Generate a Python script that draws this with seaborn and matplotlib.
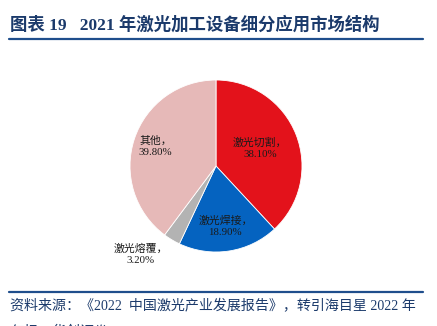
import matplotlib
matplotlib.use("Agg")
import matplotlib.pyplot as plt
import seaborn as sns
import numpy as np

# 2021 laser processing equipment application structure (%)
categories = ["激光切割", "激光焊接", "激光熔覆", "其他"]
shares = [38.10, 18.90, 3.20, 39.80]
colors = ["#E3121B", "#0563C0", "#B3B3B3", "#E6B9B8"]

title_text = "图表 19   2021 年激光加工设备细分应用市场结构"
source_line1 = "资料来源：《2022  中国激光产业发展报告》，转引海目星 2022 年"
source_line2 = "年报，华创证券"

sns.set_theme(style="white")
mixed = ["Liberation Serif", "Noto Sans CJK SC", "DejaVu Sans"]
plt.rcParams["font.family"] = mixed

W, H = 437, 326
fig = plt.figure(figsize=(W / 100, H / 100), dpi=100)
fig.patch.set_facecolor("white")

navy = "#1B3A6B"

# header and footer rules
fig.add_artist(plt.Line2D([9 / W, 423 / W], [1 - 39 / H, 1 - 39 / H], color="#1F4E8C", lw=1.6))
fig.add_artist(plt.Line2D([9 / W, 423 / W], [1 - 292 / H, 1 - 292 / H], color="#1F4E8C", lw=1.6))

fig.text(10 / W, 1 - 25 / H, title_text, fontsize=12.5, fontweight="bold",
         color=navy, ha="left", va="center", family=mixed)
fig.text(10 / W, 1 - 306 / H, source_line1, fontsize=10.1, color=navy,
         ha="left", va="center", family=mixed)
fig.text(10 / W, 1 - 332 / H, source_line2, fontsize=10.1, color=navy,
         ha="left", va="center", family=mixed)

# pie axes: centre (216,166) px, radius 86 px
cx, cy, r = 216, 166, 86
ax = fig.add_axes([(cx - r) / W, (H - cy - r) / H, 2 * r / W, 2 * r / H])
wedges, _ = ax.pie(shares, colors=colors, startangle=90, counterclock=False,
                   radius=1.0, wedgeprops=dict(edgecolor="white", linewidth=0.6))
ax.set_xlim(-1, 1)
ax.set_ylim(-1, 1)
ax.set_aspect("equal")
ax.axis("off")

# label placement: radial distance and extra angular shift per wedge
dist = [0.55, 0.71, 1.355, 0.74]
shift = [0, 0, -9.5, 0]
start = 90.0
for name, val, d, s in zip(categories, shares, dist, shift):
    mid = start - val * 3.6 / 2
    start -= val * 3.6
    ang = np.deg2rad(mid + s)
    ax.text(d * np.cos(ang), d * np.sin(ang), f"{name}，\n{val:.2f}%",
            ha="center", va="center", fontsize=7.8, color="#1a1a1a",
            linespacing=1.3, family=mixed)

fig.savefig("out.png", dpi=100)
